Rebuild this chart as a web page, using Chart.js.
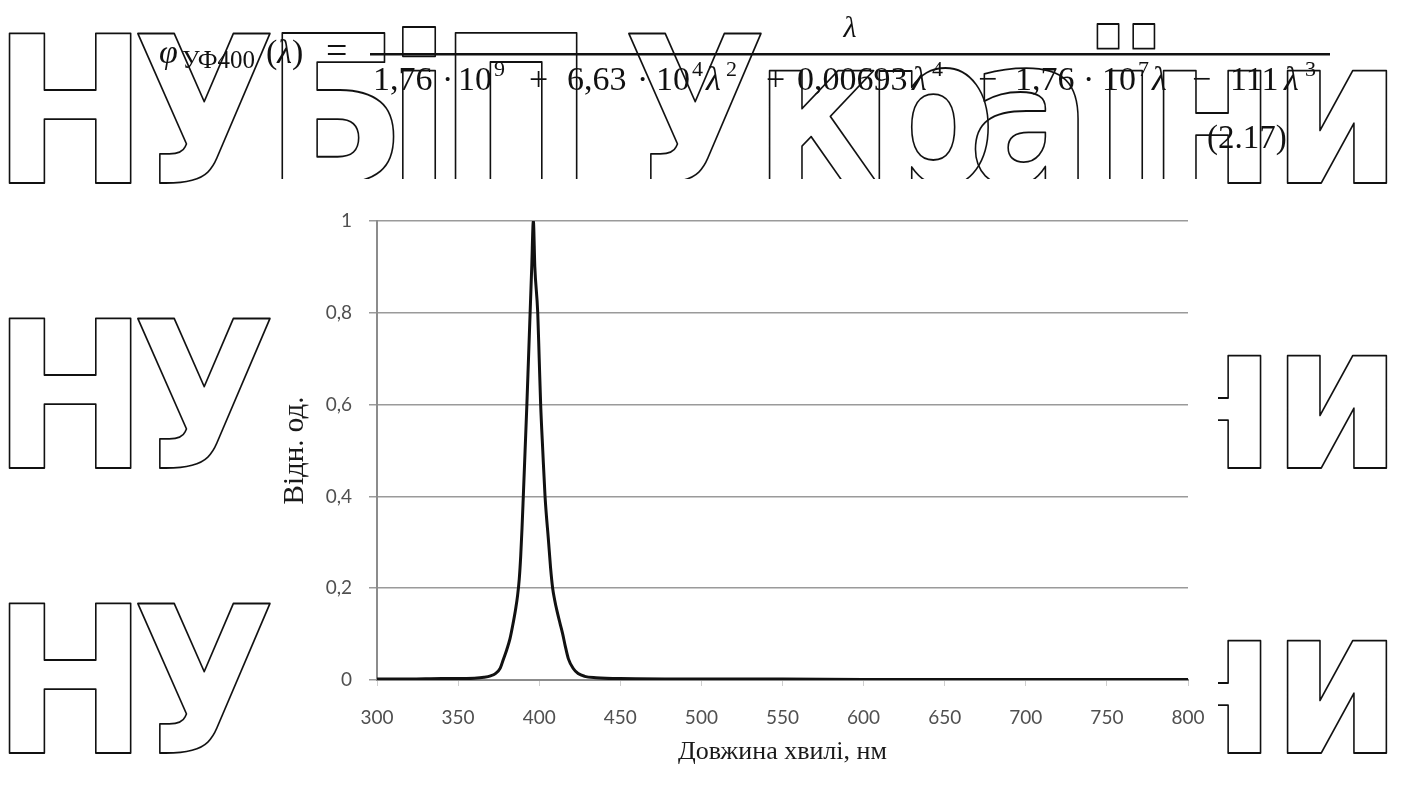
<!DOCTYPE html>
<html>
<head>
<meta charset="utf-8">
<script src="https://cdn.jsdelivr.net/npm/chart.js@4.4.1/dist/chart.umd.min.js"></script>
<style>
  body { margin: 0; background: #fff; }
  #page { position: relative; width: 1407px; height: 787px; overflow: hidden; background: #fff; }
  svg { position: absolute; left: 0; top: 0; }
  #box { position: absolute; left: 274px; top: 179px; width: 944px; height: 608px; background: #fff; }
</style>
</head>
<body>
<div id="page">
  <svg id="mark" width="1407" height="787"></svg>

  <div id="box"><canvas id="myChart" width="944" height="608"></canvas></div>

  <svg id="formula" width="1407" height="200" font-family="Liberation Serif" fill="#111">
    <text y="63" font-size="34"><tspan x="159" font-style="italic">φ</tspan><tspan x="182" dy="5" font-size="25">УФ400</tspan><tspan x="266" dy="-5">(</tspan><tspan font-style="italic">λ</tspan><tspan>)</tspan><tspan x="326" font-size="38">=</tspan></text>
    <rect x="370" y="53" width="960" height="2.5" fill="#111"></rect>
    <text x="850" y="37" font-size="30" font-style="italic" text-anchor="middle">λ</text>
    <text y="90" font-size="34">
      <tspan x="373">1,76</tspan><tspan x="442">·</tspan><tspan x="458">10</tspan><tspan x="494" dy="-14" font-size="22">9</tspan>
      <tspan x="529" dy="14">+</tspan><tspan x="567">6,63</tspan><tspan x="637">·</tspan><tspan x="656">10</tspan><tspan x="692" dy="-14" font-size="22">4</tspan>
      <tspan x="706" dy="14" font-style="italic">λ</tspan><tspan x="726" dy="-14" font-size="22">2</tspan>
      <tspan x="766" dy="14">+</tspan><tspan x="797">0,00693</tspan><tspan x="912" font-style="italic">λ</tspan><tspan x="932" dy="-14" font-size="22">4</tspan>
      <tspan x="978" dy="14">−</tspan><tspan x="1015">1,76</tspan><tspan x="1083">·</tspan><tspan x="1102">10</tspan><tspan x="1138" dy="-14" font-size="22">7</tspan>
      <tspan x="1152" dy="14" font-style="italic">λ</tspan><tspan x="1192">−</tspan><tspan x="1230">111</tspan><tspan x="1284" font-style="italic">λ</tspan><tspan x="1305" dy="-14" font-size="22">3</tspan>
    </text>
    <text x="1207" y="148" font-size="33">(2.17)</text>
  </svg>
</div>

<script>
// spectrum of the UV-400 source: wavelength (nm) against relative units
var wavelength = [300, 320, 340, 350, 360, 366, 370, 373, 376, 378, 380, 382, 384, 385.5, 386.7, 387.7, 388.6, 389.4, 390.2, 391.3,
                  392.4, 393.4, 394.4, 395.4, 396.4, 397.3, 399.1, 400, 400.9, 402.2, 403.6, 405.8, 407, 408.3, 409.5, 411,
                  412.8, 414.5, 416, 418, 421, 424, 428, 435, 450, 500, 550, 600, 650, 700, 750, 800];
var intensity = [0.002, 0.002, 0.003, 0.003, 0.004, 0.006, 0.009, 0.014, 0.026, 0.046, 0.066, 0.09, 0.125, 0.155, 0.185, 0.22, 0.27, 0.33, 0.4, 0.5,
                 0.6, 0.7, 0.8, 0.9, 1.0, 0.9, 0.8, 0.7, 0.6, 0.5, 0.4, 0.3, 0.245, 0.2, 0.175, 0.15,
                 0.124, 0.1, 0.075, 0.046, 0.025, 0.014, 0.008, 0.005, 0.003, 0.002, 0.002, 0.001, 0.001, 0.001, 0.001, 0.001];

var xTickValues = [300, 350, 400, 450, 500, 550, 600, 650, 700, 750, 800];
var yTickValues = [0, 0.2, 0.4, 0.6, 0.8, 1];

// background lettering
var markGlyphs = ['Н', 'У', 'Б', 'і', 'П', 'У', 'к', 'р', 'а', 'ї', 'н', 'и'];
var markCenters = [70, 204, 336, 419, 516, 695, 817, 930, 1030, 1126, 1212, 1337];
var markBaselines = [183, 468, 753];

function drawMark() {
    var ns = 'http://www.w3.org/2000/svg';
    var svg = document.getElementById('mark');
    var sx = 0.9;
    var g = document.createElementNS(ns, 'g');
    g.setAttribute('transform', 'scale(' + sx + ',1)');
    g.setAttribute('fill', 'none');
    g.setAttribute('stroke', '#111');
    g.setAttribute('stroke-width', '1.7');
    g.setAttribute('stroke-linejoin', 'round');
    g.setAttribute('font-family', 'DejaVu Sans');
    g.setAttribute('font-weight', 'bold');
    g.setAttribute('font-size', '206');
    g.setAttribute('text-anchor', 'middle');
    markBaselines.forEach(function (y) {
        markGlyphs.forEach(function (ch, i) {
            var t = document.createElementNS(ns, 'text');
            t.setAttribute('x', markCenters[i] / sx);
            t.setAttribute('y', y);
            t.setAttribute('vector-effect', 'non-scaling-stroke');
            t.textContent = ch;
            g.appendChild(t);
        });
    });
    svg.appendChild(g);
}

function displayChart() {
    var points = wavelength.map(function (x, i) {
        return { x: x, y: intensity[i] };
    });

    var ctx = document.getElementById('myChart').getContext('2d');
    var chart = new Chart(ctx, {
        type: 'scatter',
        data: {
            datasets: [{
                data: points,
                showLine: true,
                borderColor: '#111',
                borderWidth: 3,
                pointRadius: 0,
                cubicInterpolationMode: 'monotone'
            }]
        },
        options: {
            responsive: false,
            animation: false,
            layout: { padding: { top: 42, right: 30, left: 0, bottom: 0 } },
            plugins: {
                legend: { display: false },
                tooltip: { enabled: false }
            },
            scales: {
                x: {
                    type: 'linear',
                    min: 300,
                    max: 800,
                    afterBuildTicks: function (scale) {
                        scale.ticks = xTickValues.map(function (v) { return { value: v }; });
                    },
                    afterFit: function (scale) {
                        scale.height = 107;
                        scale.paddingLeft = 0;
                        scale.paddingRight = 0;
                    },
                    grid: { drawOnChartArea: false, drawTicks: true, tickLength: 6, color: '#cfcfcf' },
                    border: { color: '#8c8c8c', width: 2 },
                    ticks: {
                        padding: 20,
                        color: '#505050',
                        font: { family: 'Lato', size: 19 }
                    },
                    title: {
                        display: true,
                        text: 'Довжина хвилі, нм',
                        color: '#1a1a1a',
                        font: { family: 'Liberation Serif', size: 26 },
                        padding: { top: 4, bottom: 19 }
                    }
                },
                y: {
                    min: 0,
                    max: 1,
                    afterBuildTicks: function (scale) {
                        scale.ticks = yTickValues.map(function (v) { return { value: v }; });
                    },
                    afterFit: function (scale) { scale.width = 103; },
                    grid: { color: '#9a9a9a', lineWidth: 1.5, tickLength: 8 },
                    border: { color: '#8c8c8c', width: 2 },
                    ticks: {
                        padding: 17,
                        color: '#505050',
                        font: { family: 'Lato', size: 19 },
                        callback: function (v) { return String(v).replace('.', ','); }
                    },
                    title: {
                        display: true,
                        text: 'Відн. од.',
                        color: '#1a1a1a',
                        font: { family: 'Liberation Serif', size: 29 },
                        padding: { top: 4, bottom: 0 }
                    }
                }
            }
        }
    });
}

drawMark();
displayChart();
</script>
</body>
</html>
